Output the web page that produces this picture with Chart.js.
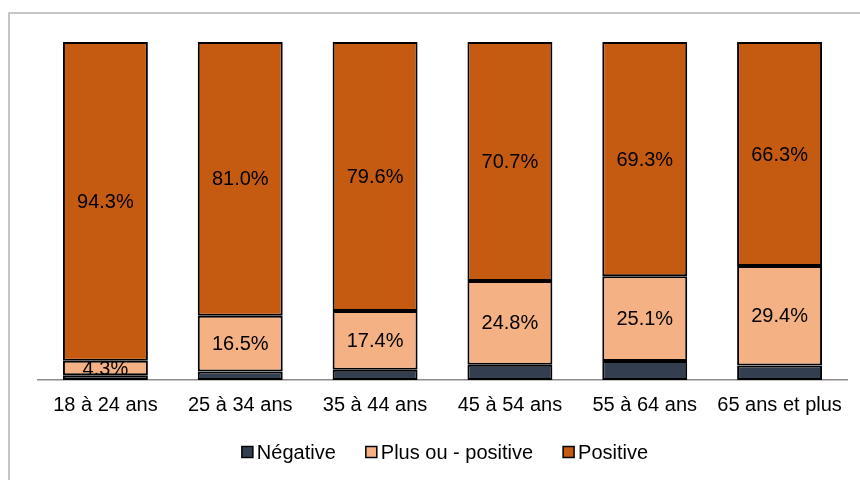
<!DOCTYPE html>
<html lang="fr">
<head>
<meta charset="utf-8">
<title>Perception par tranche d'âge</title>
<script src="https://cdn.jsdelivr.net/npm/chart.js@4/dist/chart.umd.min.js"></script>
<style>
  html, body { margin: 0; padding: 0; background: #ffffff; }
  #wrap { width: 860px; height: 480px; }
</style>
</head>
<body>
<div id="wrap"><canvas id="chart" width="860" height="480"></canvas></div>
<script>
// Tranches d'âge
const categories = ['18 à 24 ans', '25 à 34 ans', '35 à 44 ans', '45 à 54 ans', '55 à 64 ans', '65 ans et plus'];

// Répartition des réponses (%)
const negative = [1.4, 2.5, 3.0, 4.5, 5.6, 4.3];
const plusOuMoins = [4.3, 16.5, 17.4, 24.8, 25.1, 29.4];
const positive = [94.3, 81.0, 79.6, 70.7, 69.3, 66.3];

const seriesNames = ['Négative', 'Plus ou - positive', 'Positive'];

const FONT = '"Liberation Sans", Arial, sans-serif';

// Cadre gris autour du graphique
const framePlugin = {
  id: 'frame',
  beforeDraw(chart) {
    const ctx = chart.ctx;
    ctx.save();
    ctx.strokeStyle = '#b3b3b3';
    ctx.lineWidth = 1.5;
    ctx.beginPath();
    ctx.moveTo(9, 490);
    ctx.lineTo(9, 13);
    ctx.lineTo(870, 13);
    ctx.stroke();
    ctx.restore();
  }
};

// Étiquettes de valeur au centre des segments (sauf « Négative »)
const valueLabels = {
  id: 'valueLabels',
  afterDatasetsDraw(chart) {
    const ctx = chart.ctx;
    ctx.save();
    ctx.font = '20px ' + FONT;
    ctx.fillStyle = '#000000';
    ctx.textAlign = 'center';
    ctx.textBaseline = 'middle';
    chart.data.datasets.forEach((ds, di) => {
      if (di === 0) return;
      const meta = chart.getDatasetMeta(di);
      meta.data.forEach((bar, i) => {
        const v = ds.data[i];
        const yMid = (bar.y + bar.base) / 2;
        ctx.fillText(v.toFixed(1) + '%', bar.x, yMid + 1);
      });
    });
    ctx.restore();
  }
};

// Légende centrée sous l'axe
const legendPlugin = {
  id: 'customLegend',
  afterDraw(chart) {
    const ctx = chart.ctx;
    ctx.save();
    ctx.font = '20px ' + FONT;
    ctx.textBaseline = 'middle';
    const box = 11, gapText = 4, gapItem = 30;
    const items = chart.data.datasets.map(ds => ({
      label: ds.label, color: ds.backgroundColor, w: box + gapText + ctx.measureText(ds.label).width
    }));
    const total = items.reduce((s, it) => s + it.w, 0) + gapItem * (items.length - 1);
    let x = (chart.width - total) / 2 + 15;
    const y = 452;
    items.forEach(it => {
      ctx.fillStyle = it.color;
      ctx.fillRect(x, y - box / 2, box, box);
      ctx.strokeStyle = '#000000';
      ctx.lineWidth = 1.5;
      ctx.strokeRect(x, y - box / 2, box, box);
      ctx.fillStyle = '#000000';
      ctx.fillText(it.label, x + box + gapText, y + 1);
      x += it.w + gapItem;
    });
    ctx.restore();
  }
};

const colors = ['#333f50', '#f4b183', '#c55a11'];
const values = [negative, plusOuMoins, positive];

new Chart(document.getElementById('chart'), {
  type: 'bar',
  data: {
    labels: categories,
    datasets: values.map((d, i) => ({
      label: seriesNames[i],
      data: d,
      backgroundColor: colors[i],
      borderColor: '#000000',
      borderWidth: 2,
      borderSkipped: false,
      categoryPercentage: 1,
      barPercentage: 0.63
    }))
  },
  options: {
    responsive: false,
    animation: false,
    layout: { padding: { left: 38, right: 13, top: 42, bottom: 0 } },
    plugins: {
      legend: { display: false },
      tooltip: { enabled: false }
    },
    scales: {
      x: {
        stacked: true,
        grid: { display: false, drawTicks: false },
        border: { display: true, color: '#8c8c8c', width: 1.5 },
        ticks: { color: '#000000', font: { family: FONT, size: 20 }, padding: 13, maxRotation: 0, autoSkip: false },
        afterFit(scale) { scale.height = 100; }
      },
      y: {
        stacked: true,
        display: false,
        min: 0,
        max: 100
      }
    }
  },
  plugins: [framePlugin, valueLabels, legendPlugin]
});
</script>
</body>
</html>
